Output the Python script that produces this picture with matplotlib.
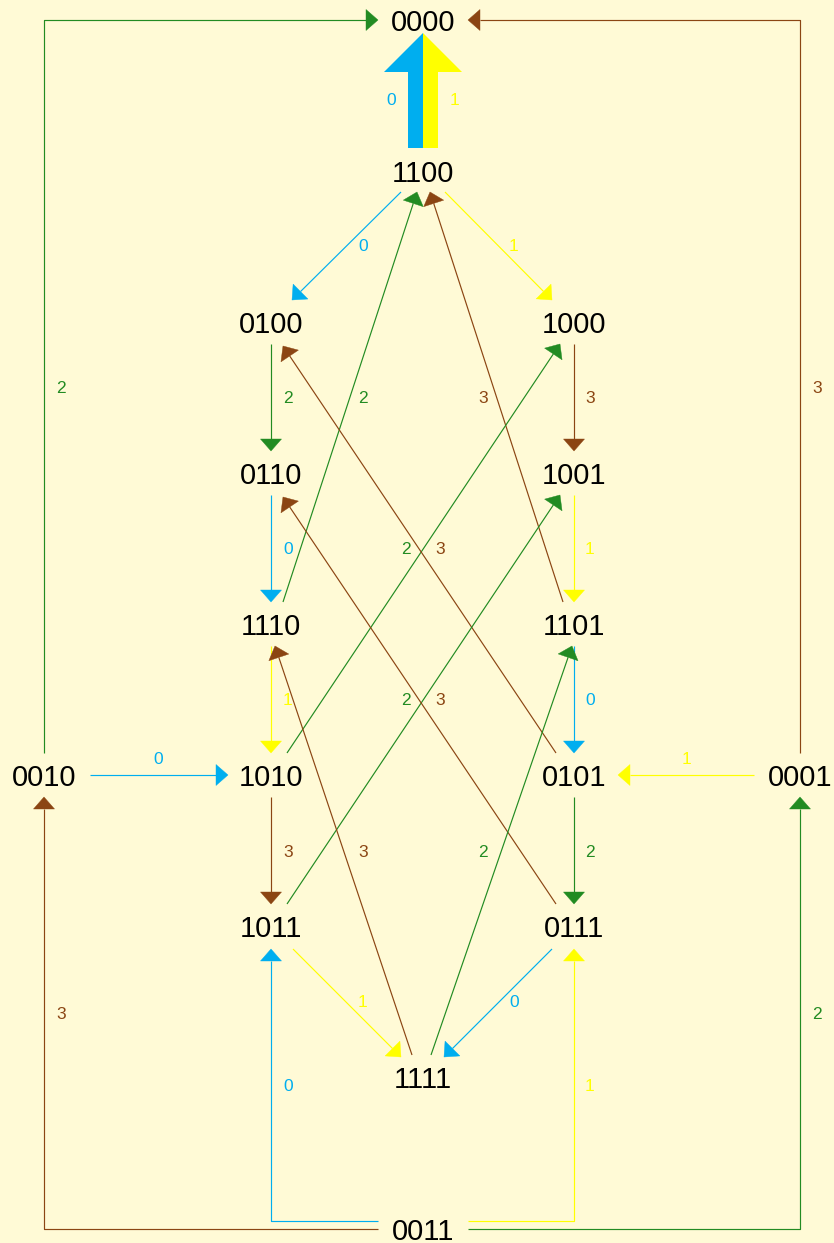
import matplotlib
matplotlib.use("Agg")
import matplotlib.pyplot as plt
from matplotlib.patches import Polygon
import numpy as np

# ---------------- data ----------------
nodes = ["0000", "1100", "0100", "1000", "0110", "1001", "1110", "1101",
         "0010", "1010", "0101", "0001", "1011", "0111", "1111", "0011"]

edge_src = ["0010", "0001", "1100", "1100", "0100", "1000", "0110", "1001",
            "1110", "1101", "0010", "0001", "1010", "0101", "1011", "0111",
            "0011", "0011", "0011", "0011", "1110", "1101", "1010", "0101",
            "1011", "0111", "1111", "1111"]
edge_dst = ["0000", "0000", "0100", "1000", "0110", "1001", "1110", "1101",
            "1010", "0101", "1010", "0101", "1011", "0111", "1111", "1111",
            "1011", "0111", "0010", "0001", "1100", "1100", "1000", "0100",
            "1001", "0110", "1110", "1101"]
edge_lab = ["2", "3", "0", "1", "2", "3", "0", "1",
            "1", "0", "0", "1", "3", "2", "1", "0",
            "0", "1", "3", "2", "2", "3", "2", "3",
            "2", "3", "3", "2"]

# double (thick) edge 1100 -> 0000 with labels 0 and 1
thick_src, thick_dst = "1100", "0000"
thick_labs = ["0", "1"]

# ---------------- layout ----------------
W, H = 834, 1243
pos = {
    "0000": (423, 20), "1100": (423, 171),
    "0100": (271, 322), "1000": (574, 322),
    "0110": (271, 473), "1001": (574, 473),
    "1110": (271, 624), "1101": (574, 624),
    "0010": (44, 775), "1010": (271, 775), "0101": (574, 775), "0001": (800, 775),
    "1011": (271, 926), "0111": (574, 926),
    "1111": (423, 1078), "0011": (423, 1229),
}
# (route, src port offset, dst port offset, label position)
layout = [
    ("vh", (0, -22), (-45, 0), (61, 387)),
    ("vh", (0, -22), (45, 0), (817, 387)),
    ("s", (-22, 21), (21, -22), (363, 245)),
    ("s", (22, 21), (-22, -22), (514, 245)),
    ("s", (0, 22), (0, -22), (288, 397)),
    ("s", (0, 22), (0, -22), (590, 397)),
    ("s", (0, 22), (0, -22), (288, 548)),
    ("s", (0, 22), (0, -22), (590, 548)),
    ("s", (0, 22), (0, -22), (288, 699)),
    ("s", (0, 22), (0, -22), (590, 699)),
    ("s", (46, 0), (-43, 0), (158, 758)),
    ("s", (-46, 0), (44, 0), (687, 758)),
    ("s", (0, 22), (0, -22), (288, 851)),
    ("s", (0, 22), (0, -22), (590, 851)),
    ("s", (22, 23), (-22, -21), (363, 1001)),
    ("s", (-22, 23), (21, -21), (514, 1001)),
    ("hv", (-45, -8), (0, 23), (288, 1085)),
    ("hv", (45, -8), (0, 23), (590, 1085)),
    ("hv", (-45, 0), (0, 22), (61, 1013)),
    ("hv", (45, 0), (0, 22), (817, 1013)),
    ("s", (12, -22), (-6, 21), (363, 397)),
    ("s", (-11, -22), (7, 21), (483, 397)),
    ("s", (16, -22), (-14, 22), (406, 548)),
    ("s", (-18, -22), (12, 24), (440, 548)),
    ("s", (16, -22), (-14, 22), (406, 699)),
    ("s", (-18, -22), (12, 24), (440, 699)),
    ("s", (-11, -23), (4, 22), (363, 851)),
    ("s", (8, -23), (-2, 22), (483, 851)),
]
thick_label_pos = [(391, 99), (455, 99)]

colors = {"0": "#00AEEF", "1": "#FFFF00", "2": "#228B22", "3": "#8B4513"}
bg = "#FFFAD6"
HEAD_L, HEAD_W = 12, 21
LW = 0.85

plt.rcParams['font.family'] = ['Liberation Sans', 'DejaVu Sans']

fig = plt.figure(figsize=(W / 100, H / 100), dpi=100, facecolor=bg)
ax = fig.add_axes([0, 0, 1, 1])
ax.set_xlim(0, W)
ax.set_ylim(H, 0)
ax.set_facecolor(bg)
ax.axis("off")


def arrow_path(pts, color):
    pts = np.asarray(pts, dtype=float)
    tip = pts[-1]
    prev = pts[-2]
    u = (tip - prev) / np.linalg.norm(tip - prev)
    base = tip - HEAD_L * u
    perp = np.array([-u[1], u[0]])
    line = np.vstack([pts[:-1], base])
    ax.plot(line[:, 0], line[:, 1], color=color, lw=LW, solid_capstyle="butt", zorder=2)
    head = np.array([tip, base + perp * HEAD_W / 2, base - perp * HEAD_W / 2])
    ax.add_patch(Polygon(head, closed=True, facecolor=color, edgecolor=color, lw=0.3, zorder=3))


for s, d, lab, (route, sp, dp, lp) in zip(edge_src, edge_dst, edge_lab, layout):
    c = colors[lab]
    a = np.array(pos[s]) + np.array(sp)
    b = np.array(pos[d]) + np.array(dp)
    if route == "s":
        pts = [a, b]
    elif route == "vh":
        pts = [a, (a[0], b[1]), b]
    else:
        pts = [a, (b[0], a[1]), b]
    arrow_path(pts, c)
    ax.text(lp[0], lp[1] + 6.3, lab, color=c, fontsize=12.5, ha="center", va="baseline")

# thick double arrow 1100 -> 0000 (two half arrows)
sx, sy = pos[thick_src]
tx, ty = pos[thick_dst]
y0 = sy - 23          # shaft bottom
ytip = ty + 13        # tip
shaft_w, head_hw, head_len = 15, 39, 39
for lab, side in zip(thick_labs, [-1, 1]):
    c = colors[lab]
    poly = [(tx, y0), (tx + side * shaft_w, y0), (tx + side * shaft_w, ytip + head_len),
            (tx + side * head_hw, ytip + head_len), (tx, ytip)]
    ax.add_patch(Polygon(poly, closed=True, facecolor=c, edgecolor="none", zorder=3))
for lab, lp in zip(thick_labs, thick_label_pos):
    ax.text(lp[0], lp[1] + 6.3, lab, color=colors[lab], fontsize=12.5, ha="center", va="baseline")

# node labels
for n in nodes:
    x, y = pos[n]
    ax.text(x, y + 10.5, n, fontsize=21, ha="center", va="baseline", color="black", zorder=4)

fig.savefig("out.png", dpi=100, facecolor=bg)
